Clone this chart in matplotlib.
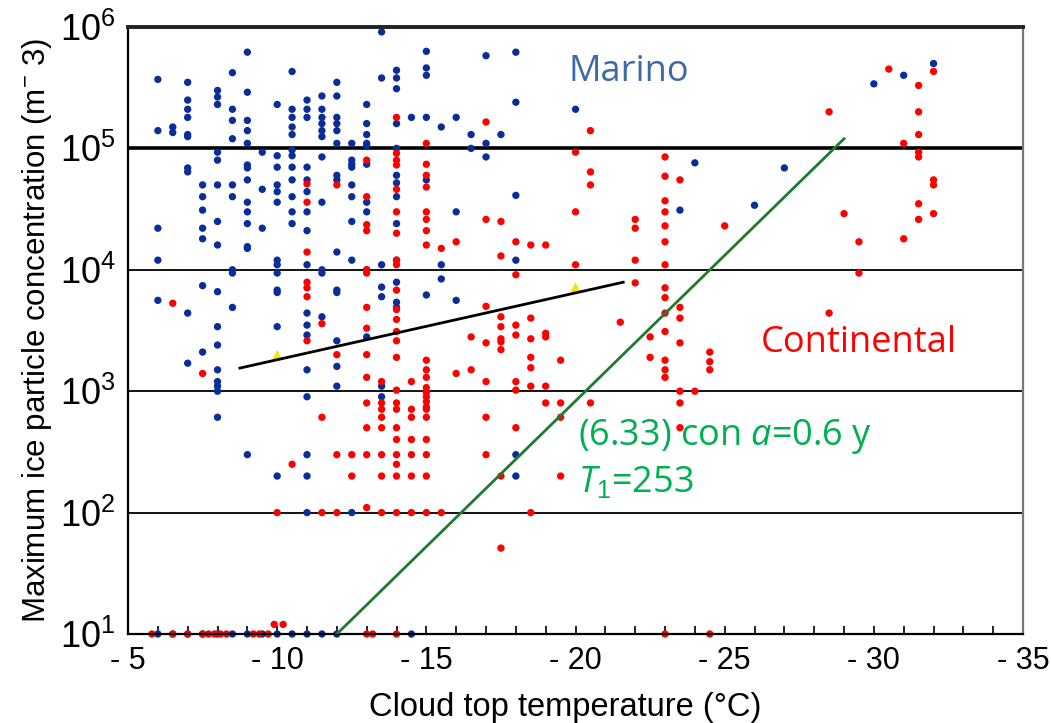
import matplotlib
matplotlib.use('Agg')
import matplotlib.pyplot as plt

plt.rcParams['font.family'] = ['Liberation Sans', 'DejaVu Sans']
plt.rcParams['mathtext.fontset'] = 'custom'
plt.rcParams['mathtext.rm'] = 'Liberation Sans'
plt.rcParams['mathtext.it'] = 'Open Sans:italic'
plt.rcParams['mathtext.bf'] = 'Liberation Sans:bold'

# Cloud top temperature (°C) -> maximum ice particle concentrations (m^-3)
marino = {
    -6: [3.7e5, 1.4e5, 2.2e4, 1.2e4, 5.6e3, 10],
    -6.5: [1.5e5, 1.35e5, 10],
    -7: [3.5e5, 2.5e5, 2.1e5, 1.8e5, 1.3e5, 1.25e5, 6.9e4, 6.4e4, 4.4e3, 1.7e3, 10],
    -7.5: [5.0e4, 4.0e4, 3.1e4, 2.2e4, 1.8e4, 7.4e3, 2.1e3, 10],
    -8: [3.0e5, 2.65e5, 2.3e5, 9.3e4, 8.0e4, 5.0e4, 2.5e4, 1.6e4, 6.6e3, 3.4e3,
         2.4e3, 1.5e3, 1.2e3, 1.1e3, 1.0e3, 610, 10],
    -8.5: [4.2e5, 2.1e5, 1.7e5, 1.2e5, 5.0e4, 4.0e4, 1.0e4, 9.4e3, 4.9e3, 10],
    -9: [6.2e5, 2.9e5, 1.7e5, 1.4e5, 1.1e5, 7.3e4, 6.9e4, 5.5e4, 3.6e4, 3.0e4,
         2.4e4, 1.55e4, 1.5e4, 300, 10],
    -9.5: [9.3e4, 4.6e4, 2.2e4, 10],
    -10: [2.3e5, 8.7e4, 7.0e4, 5.0e4, 4.4e4, 3.6e4, 1.2e4, 1.1e4, 9.4e3, 6.8e3,
          6.5e3, 3.4e3, 200, 10],
    -10.5: [4.3e5, 2.1e5, 1.8e5, 1.5e5, 1.3e5, 9.7e4, 8.7e4, 7.0e4, 5.5e4, 4.0e4,
            3.0e4, 2.4e4, 10],
    -11: [2.5e5, 2.1e5, 1.8e5, 7.0e4, 5.5e4, 4.4e4, 3.0e4, 2.1e4, 1.1e4, 4.4e3,
          3.5e3, 2.9e3, 1.5e3, 900, 300, 200, 100, 10],
    -11.5: [2.7e5, 2.1e5, 1.8e5, 1.6e5, 1.4e5, 1.25e5, 8.5e4, 3.6e4, 1.0e4, 9.4e3,
            4.1e3, 10],
    -12: [3.5e5, 2.7e5, 1.8e5, 1.6e5, 1.4e5, 1.1e5, 6.0e4, 5.5e4, 1.4e4, 6.8e3,
          6.5e3, 2.6e3, 1.6e3, 1.1e3, 10],
    -12.5: [1.1e5, 8.0e4, 7.4e4, 7.0e4, 5.0e4, 4.0e4, 2.5e4, 1.2e4, 100],
    -13: [2.3e5, 1.6e5, 1.3e5, 1.1e5, 1.05e5, 7.4e4, 3.6e4, 3.0e4, 1.0e4, 2.8e3],
    -13.5: [9.1e5, 3.8e5, 1.1e4, 7.2e3, 6.0e3, 1.1e3, 900],
    -14: [4.4e5, 3.8e5, 3.1e5, 1.6e5, 1.0e5, 6.0e4, 5.2e4, 4.0e4, 2.4e4, 1.2e4,
          7.9e3, 5.4e3, 4.9e3],
    -14.5: [1.8e5, 10],
    -15: [6.3e5, 4.6e5, 4.0e5, 1.8e5, 5.5e4, 6.2e3],
    -15.5: [1.5e5, 1.1e4, 8.4e3],
    -16: [1.8e5, 3.0e4, 5.6e3],
    -16.5: [1.3e5, 1.0e5],
    -17: [5.8e5, 1.1e5, 8.5e4],
    -17.5: [1.3e5],
    -18: [6.2e5, 2.4e5, 4.1e4, 1.2e4, 300, 200],
    -20: [2.1e5],
    -23.5: [3.1e4],
    -24: [7.6e4],
    -26: [3.4e4],
    -27: [6.9e4],
    -30: [3.4e5],
    -31: [4.0e5],
    -32: [5.0e5],
}

continental = {
    -5.8: [10],
    -6.5: [5.3e3, 10],
    -7: [10],
    -7.5: [1.4e3, 10],
    -7.7: [10], -7.9: [10], -8.1: [10], -8.3: [10],
    -9.2: [10], -9.4: [10], -9.7: [10],
    -9.9: [12], -10.2: [12],
    -10: [100],
    -10.5: [250],
    -11: [5.1e4, 3.6e4, 1.4e4, 7.9e3, 7.1e3, 6.0e3, 2.6e3],
    -11.5: [3.6e3, 610, 100],
    -12: [5.0e4, 2.0e3, 300, 100],
    -12.5: [300, 200],
    -13: [8.0e4, 4.0e4, 2.35e4, 2.1e4, 1.0e4, 9.4e3, 4.9e3, 3.3e3, 2.0e3, 1.3e3,
          800, 500, 300, 110, 10],
    -13.2: [10],
    -13.5: [1.2e3, 800, 710, 610, 500, 300, 200, 100],
    -14: [1.8e5, 9.1e4, 8.0e4, 7.3e4, 4.6e4, 3.0e4, 2.0e4, 1.2e4, 1.1e4, 6.8e3,
          4.7e3, 3.9e3, 3.1e3, 2.6e3, 1.9e3, 1.02e3, 800, 710, 500, 400,
          300, 250, 200, 100, 10],
    -14.5: [1.2e3, 710, 610, 400, 300, 200, 100],
    -15: [1.1e5, 7.4e4, 6.0e4, 4.8e4, 3.0e4, 2.6e4, 2.1e4, 1.6e4, 1.8e3, 1.5e3,
          1.3e3, 1.07e3, 980, 900, 820, 740, 710, 610, 400, 300, 200, 100],
    -15.5: [1.5e4, 100],
    -16: [1.7e4, 1.4e3],
    -16.5: [2.8e3, 1.5e3],
    -17: [1.65e5, 2.6e4, 5.0e3, 2.5e3, 1.2e3, 610, 300],
    -17.5: [2.5e4, 1.3e4, 4.1e3, 3.4e3, 2.7e3, 2.55e3, 2.2e3, 200, 51],
    -18: [1.7e4, 9.1e3, 3.5e3, 2.9e3, 1.2e3, 1.02e3, 500],
    -18.5: [1.6e4, 4.0e3, 2.7e3, 1.9e3, 1.56e3, 1.1e3, 100],
    -19: [1.6e4, 3.0e3, 2.8e3, 1.1e3, 800],
    -19.5: [1.8e3, 800, 610, 200],
    -20: [9.3e4, 3.0e4, 1.1e4],
    -20.5: [1.4e5, 6.4e4, 5.0e4, 800],
    -21.5: [3.7e3],
    -22: [2.6e4, 2.2e4, 1.2e4, 7.8e3],
    -22.5: [2.8e3, 1.9e3],
    -23: [8.5e4, 5.9e4, 3.7e4, 3.0e4, 2.3e4, 1.7e4, 1.1e4, 7.1e3, 5.9e3, 4.4e3,
          3.1e3, 1.8e3, 1.5e3, 1.3e3, 10],
    -23.5: [5.5e4, 4.9e3, 4.0e3, 2.5e3, 1.0e3, 800, 500],
    -24: [1.0e3],
    -24.5: [2.1e3, 1.75e3, 1.5e3, 10],
    -25: [2.3e4],
    -28.5: [2.0e5, 4.4e3],
    -29: [2.9e4],
    -29.5: [1.7e4, 9.4e3],
    -30.5: [4.5e5],
    -31: [1.1e5, 1.8e4],
    -31.5: [3.3e5, 2.0e5, 1.3e5, 9.3e4, 8.5e4, 3.5e4, 2.6e4],
    -32: [4.3e5, 5.5e4, 5.0e4, 2.9e4],
}

# Black fit line, green (6.33) line and yellow triangles
fit_temp = [-8.75, -21.6]
fit_conc = [1.55e3, 7.9e3]
eq_temp = [-12.0, -29.0]
eq_conc = [10, 1.2e5]
tri_temp = [-10, -20]
tri_conc = [2.0e3, 7.2e3]

x_ticks = [-5, -10, -15, -20, -25, -30, -35]
x_labels = ['- 5', '- 10', '- 15', '- 20', '- 25', '- 30', '- 35']
y_ticks = [1e1, 1e2, 1e3, 1e4, 1e5, 1e6]
y_labels = ['$10^{1}$', '$10^{2}$', '$10^{3}$', '$10^{4}$', '$10^{5}$', '$10^{6}$']
thin_levels = [1e2, 1e3, 1e4]


def flatten(cols):
    xs, ys = [], []
    for t, vals in cols.items():
        for v in vals:
            xs.append(t)
            ys.append(v)
    return xs, ys


fig = plt.figure(figsize=(10.51, 7.23), dpi=100)
ax = fig.add_axes([0.1218, 0.1231, 0.8516, 0.8396])
ax.set_yscale('log')
ax.set_xlim(-5, -35)
ax.set_ylim(10, 1e6)

# Horizontal reference lines.
for lv in thin_levels:
    ax.axhline(lv, color='black', lw=1.3, zorder=1)
ax.axhline(1e5, color='black', lw=2.6, zorder=1)

mx, my = flatten(marino)
cx, cy = flatten(continental)
ax.scatter(mx, my, marker='o', s=28, color='#0a2d9a', edgecolors='none',
           zorder=2, clip_on=False)
ax.scatter(cx, cy, marker='o', s=28, color='#ff0000', edgecolors='none',
           zorder=2, clip_on=False)
ax.scatter(tri_temp, tri_conc, marker='^', s=50, color='#f5e600',
           edgecolors='none', zorder=3)

ax.plot(fit_temp, fit_conc, color='black', lw=2.0, zorder=4)
ax.plot(eq_temp, eq_conc, color='#1e7a2e', lw=2.0, zorder=4)

# Spines.
ax.spines['top'].set_linewidth(2.8)
ax.spines['top'].set_color('#222222')
ax.spines['right'].set_linewidth(1.6)
ax.spines['right'].set_color('#777777')
ax.spines['left'].set_linewidth(1.6)
ax.spines['bottom'].set_linewidth(1.6)

ax.set_xticks(x_ticks)
ax.set_xticklabels(x_labels, fontsize=22)
ax.set_xticks(list(range(-5, -36, -1)), minor=True)
ax.tick_params(axis='x', which='both', direction='in', length=6, width=1.2,
               pad=9)
ax.set_yticks(y_ticks)
ax.set_yticklabels(y_labels, fontsize=26)
ax.yaxis.set_minor_locator(matplotlib.ticker.NullLocator())
ax.tick_params(axis='y', length=0, pad=9)

ax.set_xlabel('Cloud top temperature (°C)', fontsize=23.5, labelpad=8)
ax.xaxis.set_label_coords(0.488, -0.095)
ax.set_ylabel('Maximum ice particle concentration (m$^{-}$ 3)', fontsize=22.5,
              labelpad=4)

# Annotations.
ax.text(0.559, 0.926, 'Marino', transform=ax.transAxes, color='#3d6aa6',
        fontsize=26, family='Open Sans', ha='center', va='center')
ax.text(0.817, 0.479, 'Continental', transform=ax.transAxes, color='#ff0000',
        fontsize=26, family='Open Sans', ha='center', va='center')
ax.text(0.503, 0.325, '(6.33) con $a$=0.6 y', transform=ax.transAxes,
        color='#00b050', fontsize=26, family='Open Sans', ha='left', va='center')
ax.text(0.503, 0.249, '$T_1$=253', transform=ax.transAxes,
        color='#00b050', fontsize=26, family='Open Sans', ha='left', va='center')

fig.savefig('out.png', dpi=100)
